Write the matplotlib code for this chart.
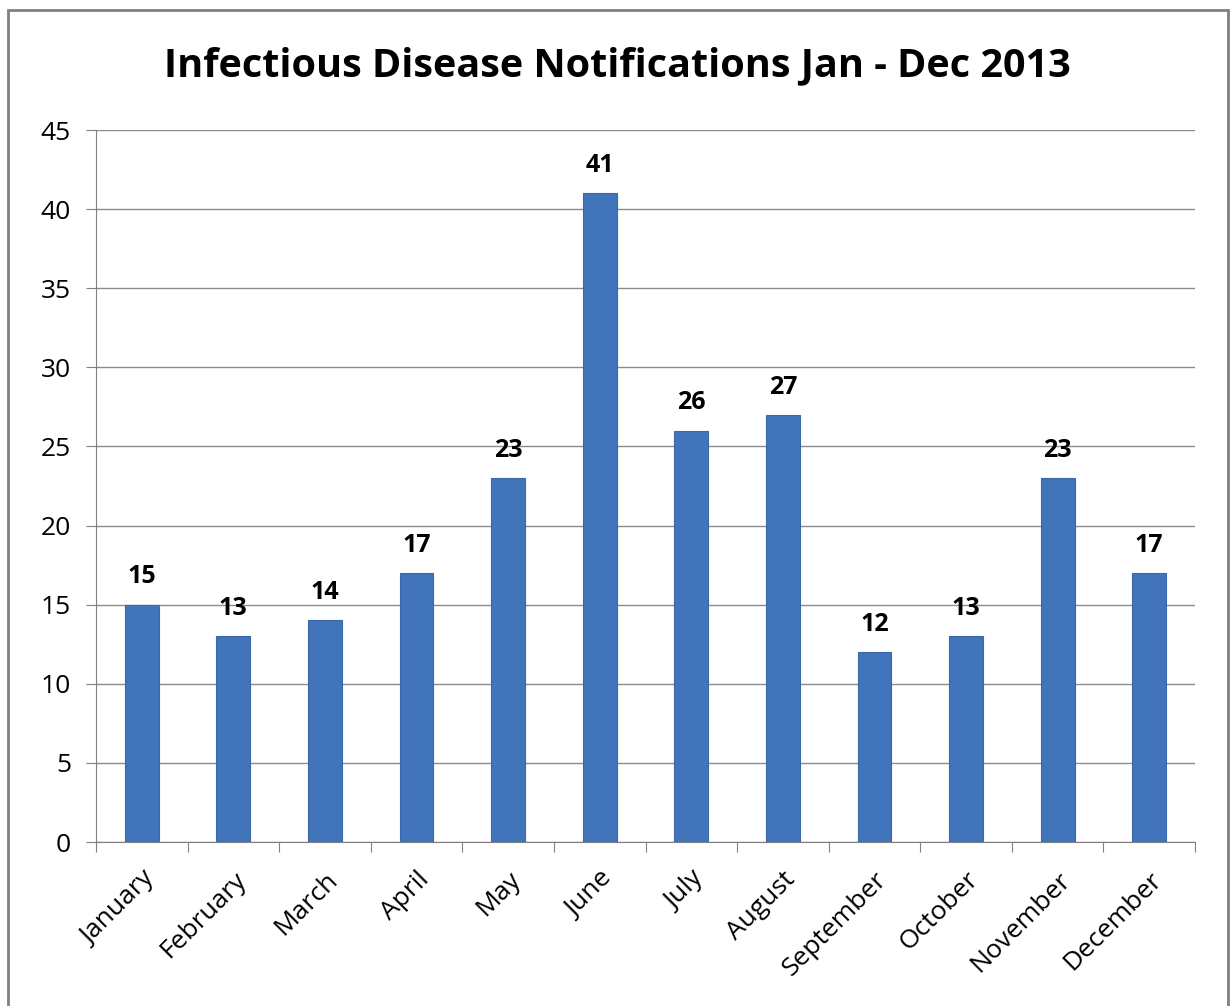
import matplotlib.pyplot as plt
from matplotlib.patches import Rectangle

months = ['January', 'February', 'March', 'April', 'May', 'June',
          'July', 'August', 'September', 'October', 'November', 'December']
notifications = [15, 13, 14, 17, 23, 41, 26, 27, 12, 13, 23, 17]
y_ticks = [0, 5, 10, 15, 20, 25, 30, 35, 40, 45]

plt.rcParams['font.family'] = ['Open Sans', 'DejaVu Sans']

fig = plt.figure(figsize=(12.32, 10.06), dpi=100)
W, H = 1232, 1006
ax = fig.add_axes([96 / W, 1 - 842 / H, (1195 - 96) / W, (842 - 130) / H])

x = range(len(months))
bars = ax.bar(x, notifications, width=0.37, color='#4174bb', edgecolor='#3a68a8',
              linewidth=0.8, zorder=3)

# value labels above each bar
for bar, val in zip(bars, notifications):
    ax.annotate(str(val), (bar.get_x() + bar.get_width() / 2, val),
                xytext=(0, 11), textcoords='offset points',
                ha='center', va='bottom', fontsize=18, fontweight='bold')

ax.set_xlim(-0.5, len(months) - 0.5)
ax.set_ylim(0, 45)
ax.set_yticks(y_ticks)
ax.tick_params(axis='y', labelsize=19, length=7, color='#808080', pad=11)
ax.set_xticks([i - 0.5 for i in range(len(months) + 1)], minor=False)
ax.set_xticklabels([])
ax.set_xticks(list(x), minor=True)
ax.set_xticklabels(months, minor=True, rotation=45, ha='right',
                   rotation_mode='anchor', fontsize=19)
ax.tick_params(axis='x', which='major', length=7, color='#808080')
ax.tick_params(axis='x', which='minor', length=0, pad=18)

ax.grid(axis='y', color='#8c8c8c', linewidth=1, zorder=0)
for side in ['top', 'right']:
    ax.spines[side].set_visible(False)
for side in ['left', 'bottom']:
    ax.spines[side].set_color('#808080')

fig.text(617 / W, 1 - 66 / H, 'Infectious Disease Notifications Jan - Dec 2013',
         ha='center', va='center', fontsize=28.5, fontweight='bold')

# outer chart frame
fig.patches.append(Rectangle((8 / W, -0.01), (1220 / W), 1 - 10 / H + 0.01,
                             transform=fig.transFigure, fill=False,
                             edgecolor='#7f7f7f', linewidth=2))

fig.savefig('out.png', dpi=100)
